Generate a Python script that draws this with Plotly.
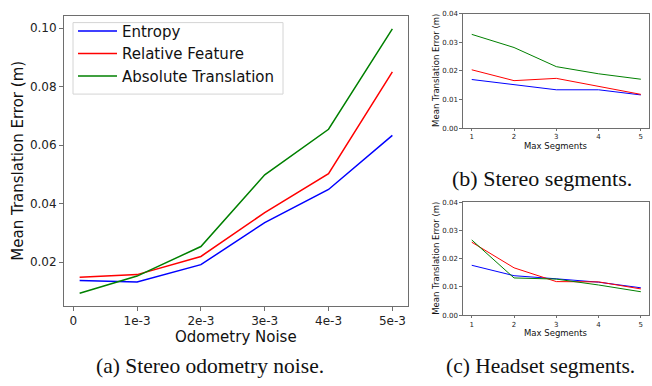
import plotly.graph_objects as go

W, H = 652, 386

# ---------------- data ----------------
noise = [1e-4, 1e-3, 2e-3, 3e-3, 4e-3, 5e-3]
noise_ticks = [0, 1e-3, 2e-3, 3e-3, 4e-3, 5e-3]
noise_labels = ["0", "1e-3", "2e-3", "3e-3", "4e-3", "5e-3"]
a_entropy = [0.0137, 0.0132, 0.0191, 0.0335, 0.0448, 0.0633]
a_relative = [0.0148, 0.0157, 0.0219, 0.0369, 0.0502, 0.0850]
a_absolute = [0.0093, 0.0152, 0.0253, 0.0498, 0.0654, 0.0997]

segments = [1, 2, 3, 4, 5]
b_entropy = [0.0170, 0.0151, 0.0134, 0.0134, 0.0116]
b_relative = [0.0204, 0.0166, 0.0174, 0.0146, 0.0118]
b_absolute = [0.0328, 0.0282, 0.0215, 0.0190, 0.0171]

c_entropy = [0.0177, 0.0140, 0.0129, 0.0117, 0.0097]
c_relative = [0.0259, 0.0168, 0.0119, 0.0118, 0.0093]
c_absolute = [0.0267, 0.0132, 0.0128, 0.0107, 0.0083]

series_names = ["Entropy", "Relative Feature", "Absolute Translation"]
colors = ["#0000ff", "#ff0000", "#008000"]

captions = ["(a) Stereo odometry noise.", "(b) Stereo segments.", "(c) Headset segments."]

# ---------------- helpers ----------------
def px_x(p):
    return p / W

def px_y(p):
    return 1 - p / H

SANS = "DejaVu Sans"
SERIF = "Liberation Serif"
AXC = "#6e6e6e"

fig = go.Figure()

# (a)
for name, vals, col in zip(series_names, [a_entropy, a_relative, a_absolute], colors):
    fig.add_trace(go.Scatter(x=noise, y=vals, mode="lines", name=name,
                             line=dict(color=col, width=1.5),
                             xaxis="x", yaxis="y", showlegend=True))
# (b)
for name, vals, col in zip(series_names, [b_entropy, b_relative, b_absolute], colors):
    fig.add_trace(go.Scatter(x=segments, y=vals, mode="lines", name=name,
                             line=dict(color=col, width=1),
                             xaxis="x2", yaxis="y2", showlegend=False))
# (c)
for name, vals, col in zip(series_names, [c_entropy, c_relative, c_absolute], colors):
    fig.add_trace(go.Scatter(x=segments, y=vals, mode="lines", name=name,
                             line=dict(color=col, width=1),
                             xaxis="x3", yaxis="y3", showlegend=False))

def axis_common(size, ticklen):
    return dict(showgrid=False, zeroline=False, showline=True, linecolor=AXC,
                linewidth=1, mirror=True, ticks="outside", ticklen=ticklen,
                tickcolor=AXC, tickwidth=1,
                tickfont=dict(family=SANS, size=size, color="#222222"))

dom_a_x = [px_x(64), px_x(408)]
dom_a_y = [px_y(308), px_y(12)]
dom_s_x = [px_x(463.3), px_x(649.3)]
dom_b_y = [px_y(126.7), px_y(10)]
dom_c_y = [px_y(317.7), px_y(202.7)]

fig.update_layout(
    width=W, height=H,
    margin=dict(l=0, r=0, t=0, b=0),
    paper_bgcolor="white", plot_bgcolor="white",
    xaxis=dict(domain=dom_a_x, anchor="y", range=[-0.145e-3, 5.245e-3],
               tickvals=noise_ticks, ticktext=noise_labels, **axis_common(12, 4)),
    yaxis=dict(domain=dom_a_y, anchor="x", range=[0.0051, 0.1042],
               tickvals=[0.02, 0.04, 0.06, 0.08, 0.10], tickformat=".2f",
               **axis_common(12, 4)),
    xaxis2=dict(domain=dom_s_x, anchor="y2", range=[0.8, 5.2],
                tickvals=segments, **axis_common(7, 2)),
    yaxis2=dict(domain=dom_b_y, anchor="x2", range=[0, 0.04],
                tickvals=[0, 0.01, 0.02, 0.03, 0.04], tickformat=".2f",
                **axis_common(7, 3)),
    xaxis3=dict(domain=dom_s_x, anchor="y3", range=[0.8, 5.2],
                tickvals=segments, **axis_common(7, 2)),
    yaxis3=dict(domain=dom_c_y, anchor="x3", range=[0, 0.04],
                tickvals=[0, 0.01, 0.02, 0.03, 0.04], tickformat=".2f",
                **axis_common(7, 3)),
    legend=dict(x=px_x(73), y=px_y(11), xanchor="left", yanchor="top",
                bgcolor="rgba(0,0,0,0)", borderwidth=0, itemwidth=39,
                font=dict(family=SANS, size=15, color="#111111"),
                tracegroupgap=0),
    showlegend=True,
    shapes=[dict(type="rect", xref="paper", yref="paper",
                 x0=px_x(73), x1=px_x(283), y0=px_y(92), y1=px_y(19),
                 line=dict(color="#d4d4d4", width=1), fillcolor="white",
                 layer="below")],
)

annotations = [
    # axis titles (a)
    dict(text="Odometry Noise", x=px_x(236), y=px_y(340), font=dict(family=SANS, size=15, color="#111111")),
    dict(text="Mean Translation Error (m)", x=px_x(18), y=px_y(160), textangle=-90,
         font=dict(family=SANS, size=15, color="#111111")),
    # (b)
    dict(text="Max Segments", x=px_x(556.3), y=px_y(144.5), font=dict(family=SANS, size=8.5, color="#111111")),
    dict(text="Mean Translation Error (m)", x=px_x(436), y=px_y(68.3), textangle=-90,
         font=dict(family=SANS, size=8.5, color="#111111")),
    # (c)
    dict(text="Max Segments", x=px_x(556.3), y=px_y(335.5), font=dict(family=SANS, size=8.5, color="#111111")),
    dict(text="Mean Translation Error (m)", x=px_x(436), y=px_y(260.2), textangle=-90,
         font=dict(family=SANS, size=8.5, color="#111111")),
    # captions
    dict(text=captions[0], x=px_x(210), y=px_y(370), font=dict(family=SERIF, size=21.5, color="#111111")),
    dict(text=captions[1], x=px_x(542), y=px_y(178), font=dict(family=SERIF, size=22, color="#111111")),
    dict(text=captions[2], x=px_x(540), y=px_y(370), font=dict(family=SERIF, size=21.5, color="#111111")),
]
for a in annotations:
    a.update(xref="paper", yref="paper", showarrow=False, xanchor="center", yanchor="middle")
fig.update_layout(annotations=annotations)

fig.write_html("out.html")
